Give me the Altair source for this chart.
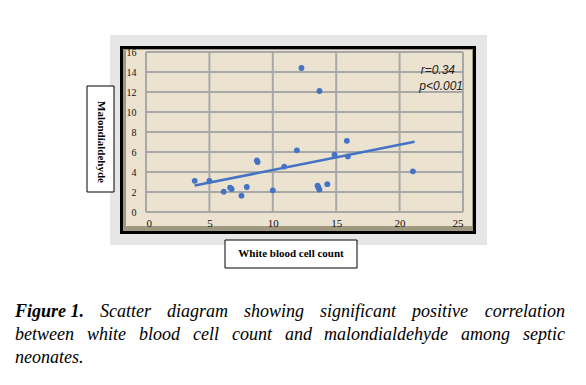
import altair as alt
import pandas as pd

# ---- data ----
wbc = [3.84, 5.0, 6.13, 6.63, 6.75, 7.53, 7.95, 8.74, 8.8, 10.0, 10.9, 11.9, 12.26, 13.53, 13.6, 13.68, 13.68, 14.3, 14.87, 15.84, 15.92, 21.05]
mda = [3.12, 3.12, 2.03, 2.44, 2.3, 1.63, 2.5, 5.15, 5.0, 2.17, 4.54, 6.17, 14.4, 2.64, 2.45, 12.1, 2.24, 2.78, 5.73, 7.12, 5.56, 4.07]
trend_x = [3.84, 21.18]
trend_y = [2.64, 7.02]
x_ticks = [0, 5, 10, 15, 20, 25]
y_ticks = [0, 2, 4, 6, 8, 10, 12, 14, 16]

caption_1 = ["Figure 1.", "Scatter", "diagram", "showing", "significant", "positive", "correlation"]
caption_2 = ["between", "white", "blood", "cell", "count", "and", "malondialdehyde", "among", "septic"]
caption_3 = ["neonates."]

# ---- layout (plot-area pixel offsets; caption words spaced as justified text) ----
W, H = 317, 160
cap1_x = [-131, -46, 21, 98, 174, 266, 419]
cap2_x = [-131, -59, -7, 47, 86, 139, 178, 315, 419]
cap3_x = [-131]

BLUE = "#4472C4"
one = pd.DataFrame({"a": [0]})

xs = alt.Scale(domain=[0, 25], nice=False, zero=False)
ys = alt.Scale(domain=[0, 16], nice=False, zero=False)
ax_x = alt.Axis(title=None, grid=False, domain=False, ticks=False, values=x_ticks,
                labelFont="Liberation Serif", labelFontSize=11, labelColor="#111",
                labelPadding=5, zindex=1)
ax_y = alt.Axis(title=None, grid=False, domain=False, ticks=False, values=y_ticks,
                labelFont="Liberation Serif", labelFontSize=10, labelColor="#111",
                labelPadding=10, zindex=1)


def box(x1, x2, y1, y2, fill, stroke=None, sw=0):
    kw = dict(fill=fill)
    if stroke:
        kw.update(stroke=stroke, strokeWidth=sw)
    return alt.Chart(one).mark_rect(**kw).encode(
        x=alt.value(x1), x2=alt.value(x2), y=alt.value(y1), y2=alt.value(y2))


dotted = box(-36, 341, -17, 193, "#E6E6E6")
frame = box(-26, 330, -6, 182, "#000000")
bevel = box(-23, 327, -3, 179, "#9F977F")
beige = box(-20, 326, -2, 174, "#EBE3D0")

gx = alt.Chart(pd.DataFrame({"v": x_ticks})).mark_rule(color="#A8A8A8", strokeWidth=2).encode(
    x=alt.X("v:Q", scale=xs, axis=ax_x))
gy = alt.Chart(pd.DataFrame({"v": y_ticks})).mark_rule(color="#A8A8A8", strokeWidth=2).encode(
    y=alt.Y("v:Q", scale=ys, axis=ax_y))

trend = alt.Chart(pd.DataFrame({"x": trend_x, "y": trend_y})).mark_line(
    color=BLUE, strokeWidth=2.5).encode(
    x=alt.X("x:Q", scale=xs, axis=ax_x), y=alt.Y("y:Q", scale=ys, axis=ax_y))

pts = alt.Chart(pd.DataFrame({"wbc": wbc, "mda": mda})).mark_circle(
    color=BLUE, size=34, opacity=1).encode(
    x=alt.X("wbc:Q", scale=xs, axis=ax_x), y=alt.Y("mda:Q", scale=ys, axis=ax_y))

stat_r = alt.Chart(one).mark_text(text="r=0.34", font="Liberation Sans", fontStyle="italic",
                                  fontSize=12, align="right", baseline="alphabetic",
                                  color="#222").encode(x=alt.value(309), y=alt.value(22))
stat_p = alt.Chart(one).mark_text(text="p<0.001", font="Liberation Sans", fontStyle="italic",
                                  fontSize=12, align="right", baseline="alphabetic",
                                  color="#222").encode(x=alt.value(317), y=alt.value(38))

ybox = box(-59, -32, 34, 140, "#FFFFFF", "#000000", 1)
ytitle = alt.Chart(one).mark_text(text="Malondialdehyde", font="Liberation Serif", fontWeight="bold",
                                  fontSize=11, angle=90, align="center", baseline="middle",
                                  color="#000").encode(x=alt.value(-45.5), y=alt.value(90))
xbox = box(79, 211, 188, 216, "#FFFFFF", "#000000", 1)
xtitle = alt.Chart(one).mark_text(text="White blood cell count", font="Liberation Serif",
                                  fontWeight="bold", fontSize=11, align="center",
                                  baseline="middle", color="#000").encode(
    x=alt.value(145), y=alt.value(202))

cap_layers = []
for words, xpos, yb in [(caption_1, cap1_x, 265), (caption_2, cap2_x, 288), (caption_3, cap3_x, 311)]:
    for i, (w, xp) in enumerate(zip(words, xpos)):
        last = (i == len(words) - 1) and len(words) > 1
        bold = w.startswith("Figure")
        cap_layers.append(
            alt.Chart(one).mark_text(text=w, font="Liberation Serif", fontStyle="italic",
                                     fontWeight="bold" if bold else "normal", fontSize=18,
                                     align="right" if last else "left",
                                     baseline="alphabetic", color="#000").encode(
                x=alt.value(xp), y=alt.value(yb)))

chart = alt.layer(dotted, frame, bevel, beige, gx, gy, trend, pts, stat_r, stat_p,
                  ybox, ytitle, xbox, xtitle, *cap_layers).properties(
    width=W, height=H,
    autosize=alt.AutoSizeParams(type="none"),
    padding={"left": 138, "top": 44, "right": 115, "bottom": 165},
    background="white",
).configure_view(stroke=None)

chart.save("out.html", embed_options={"renderer": "svg", "actions": False})
